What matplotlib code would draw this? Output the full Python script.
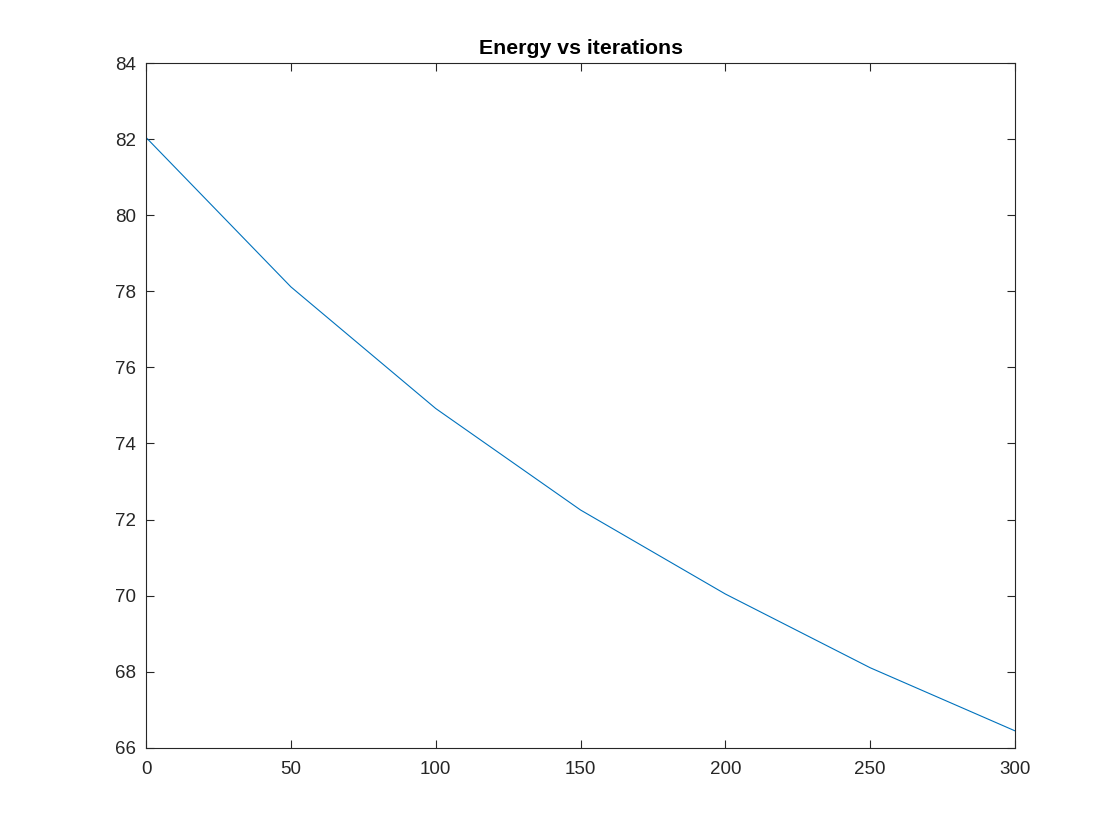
import matplotlib
matplotlib.use("Agg")
import matplotlib.pyplot as plt

iterations = [0, 50, 100, 150, 200, 250, 300]
energy = [82.05, 78.12, 74.92, 72.25, 70.04, 68.10, 66.44]
xticks = [0, 50, 100, 150, 200, 250, 300]
yticks = [66, 68, 70, 72, 74, 76, 78, 80, 82, 84]

plt.rcParams['font.family'] = ['Liberation Sans', 'DejaVu Sans']

fig = plt.figure(figsize=(11.2, 8.4), dpi=100)
ax = fig.add_axes([0.1304, 0.11, 0.7759, 0.8146])
ax.plot(iterations, energy, color=(0, 0.447, 0.741), linewidth=0.8)
ax.set_xlim(0, 300)
ax.set_ylim(66, 84)
ax.set_xticks(xticks)
ax.set_yticks(yticks)
dark = (0.15, 0.15, 0.15)
ax.tick_params(direction='in', length=6, width=0.8, top=True, right=True,
               labelsize=13.5, colors=dark, labelcolor=dark)
ax.tick_params(axis='x', pad=10)
ax.tick_params(axis='y', pad=7)
for s in ax.spines.values():
    s.set_color(dark)
    s.set_linewidth(0.8)
ax.set_title('Energy vs iterations', fontsize=15.3, fontweight='bold', pad=7)
fig.savefig('out.png', dpi=100, facecolor='white')
